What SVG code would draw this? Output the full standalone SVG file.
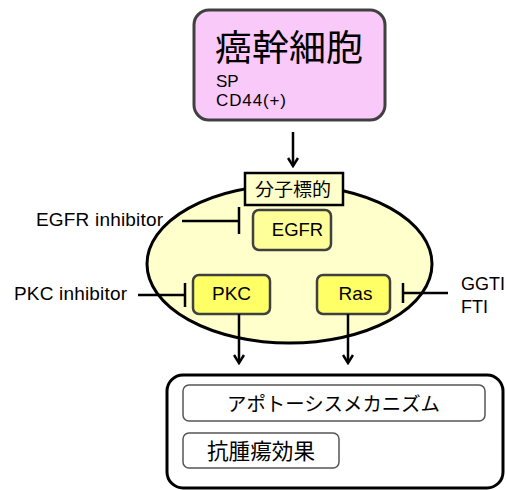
<svg xmlns="http://www.w3.org/2000/svg" width="506" height="490" viewBox="0 0 506 490">
<defs>
<style>
text{font-family:"Liberation Sans","Noto Sans CJK JP",sans-serif;fill:#000}
.jp{font-family:"Noto Sans CJK JP","Liberation Sans",sans-serif}
.conn{stroke:#000;stroke-width:2.5;fill:none}
.prot{stroke:#404040;stroke-width:2.5}
.inner{fill:#fff;stroke:#555;stroke-width:1.5}
</style>
<marker id="arr" markerWidth="12" markerHeight="12" refX="10" refY="6" orient="auto" markerUnits="userSpaceOnUse">
<path d="M2,1 L10,6 L2,11" fill="none" stroke="#000" stroke-width="2.5"/>
</marker>
</defs>
<rect width="506" height="490" fill="#fff"/>
<g id="cell">
<ellipse cx="289.5" cy="264" rx="142.5" ry="79" fill="#FFFFCC" stroke="#000" stroke-width="3"/>
</g>
<g id="stemcell">
<rect x="194" y="10" width="191" height="110" rx="15" fill="#F9C9F9" stroke="#404040" stroke-width="3"/>
<text x="215" y="61" class="jp" font-size="36" textLength="148" lengthAdjust="spacingAndGlyphs">癌幹細胞</text>
<text x="216" y="87" font-size="17">SP</text>
<text x="216" y="106" font-size="17" textLength="70">CD44(+)</text>
</g>
<g id="target">
<rect x="245" y="173" width="98" height="32" fill="#FFFFCC" stroke="#000" stroke-width="2.5"/>
<text x="255" y="196" class="jp" font-size="18" textLength="76" lengthAdjust="spacingAndGlyphs">分子標的</text>
</g>
<g id="egfr">
<rect x="253" y="210" width="78" height="40" rx="6" fill="#FFFF99" class="prot"/>
<text x="297.5" y="236" font-size="18.5" text-anchor="middle">EGFR</text>
</g>
<g id="pkc">
<rect x="193" y="275" width="77" height="39" rx="6" fill="#FFFF66" class="prot"/>
<text x="231.5" y="300" font-size="19" text-anchor="middle">PKC</text>
</g>
<g id="ras">
<rect x="317" y="275" width="73" height="39" rx="6" fill="#FFFF66" class="prot"/>
<text x="355.5" y="300" font-size="19" text-anchor="middle">Ras</text>
</g>
<g id="egfr-inhibitor"><text x="36" y="226" font-size="19" textLength="127">EGFR inhibitor</text></g>
<g id="pkc-inhibitor"><text x="14" y="300" font-size="19" textLength="113">PKC inhibitor</text></g>
<g id="ggti-fti">
<text x="461" y="290" font-size="18">GGTI</text>
<text x="461" y="313" font-size="18">FTI</text>
</g>
<g id="result">
<rect x="167" y="375" width="336" height="113" rx="16" fill="#fff" stroke="#000" stroke-width="3"/>
</g>
<g id="apoptosis">
<rect x="183" y="385" width="302" height="36" rx="6" class="inner"/>
<text x="227" y="411" class="jp" font-size="19.5" textLength="213" lengthAdjust="spacingAndGlyphs">アポトーシスメカニズム</text>
</g>
<g id="antitumor">
<rect x="183" y="433" width="156" height="35" rx="6" class="inner"/>
<text x="207" y="459" class="jp" font-size="21.5" textLength="108" lengthAdjust="spacingAndGlyphs">抗腫瘍効果</text>
</g>
<g id="connectors">
<line x1="293" y1="132" x2="293" y2="166" class="conn" marker-end="url(#arr)"/>
<line x1="239" y1="314" x2="239" y2="363" class="conn" marker-end="url(#arr)"/>
<line x1="348" y1="314" x2="348" y2="363" class="conn" marker-end="url(#arr)"/>
<line x1="182" y1="221" x2="239" y2="221" class="conn"/>
<line x1="239" y1="207" x2="239" y2="234" class="conn"/>
<line x1="138" y1="295" x2="185" y2="295" class="conn"/>
<line x1="185" y1="283" x2="185" y2="307" class="conn"/>
<line x1="448" y1="293" x2="403" y2="293" class="conn"/>
<line x1="403" y1="283" x2="403" y2="303" class="conn"/>
</g>
</svg>
